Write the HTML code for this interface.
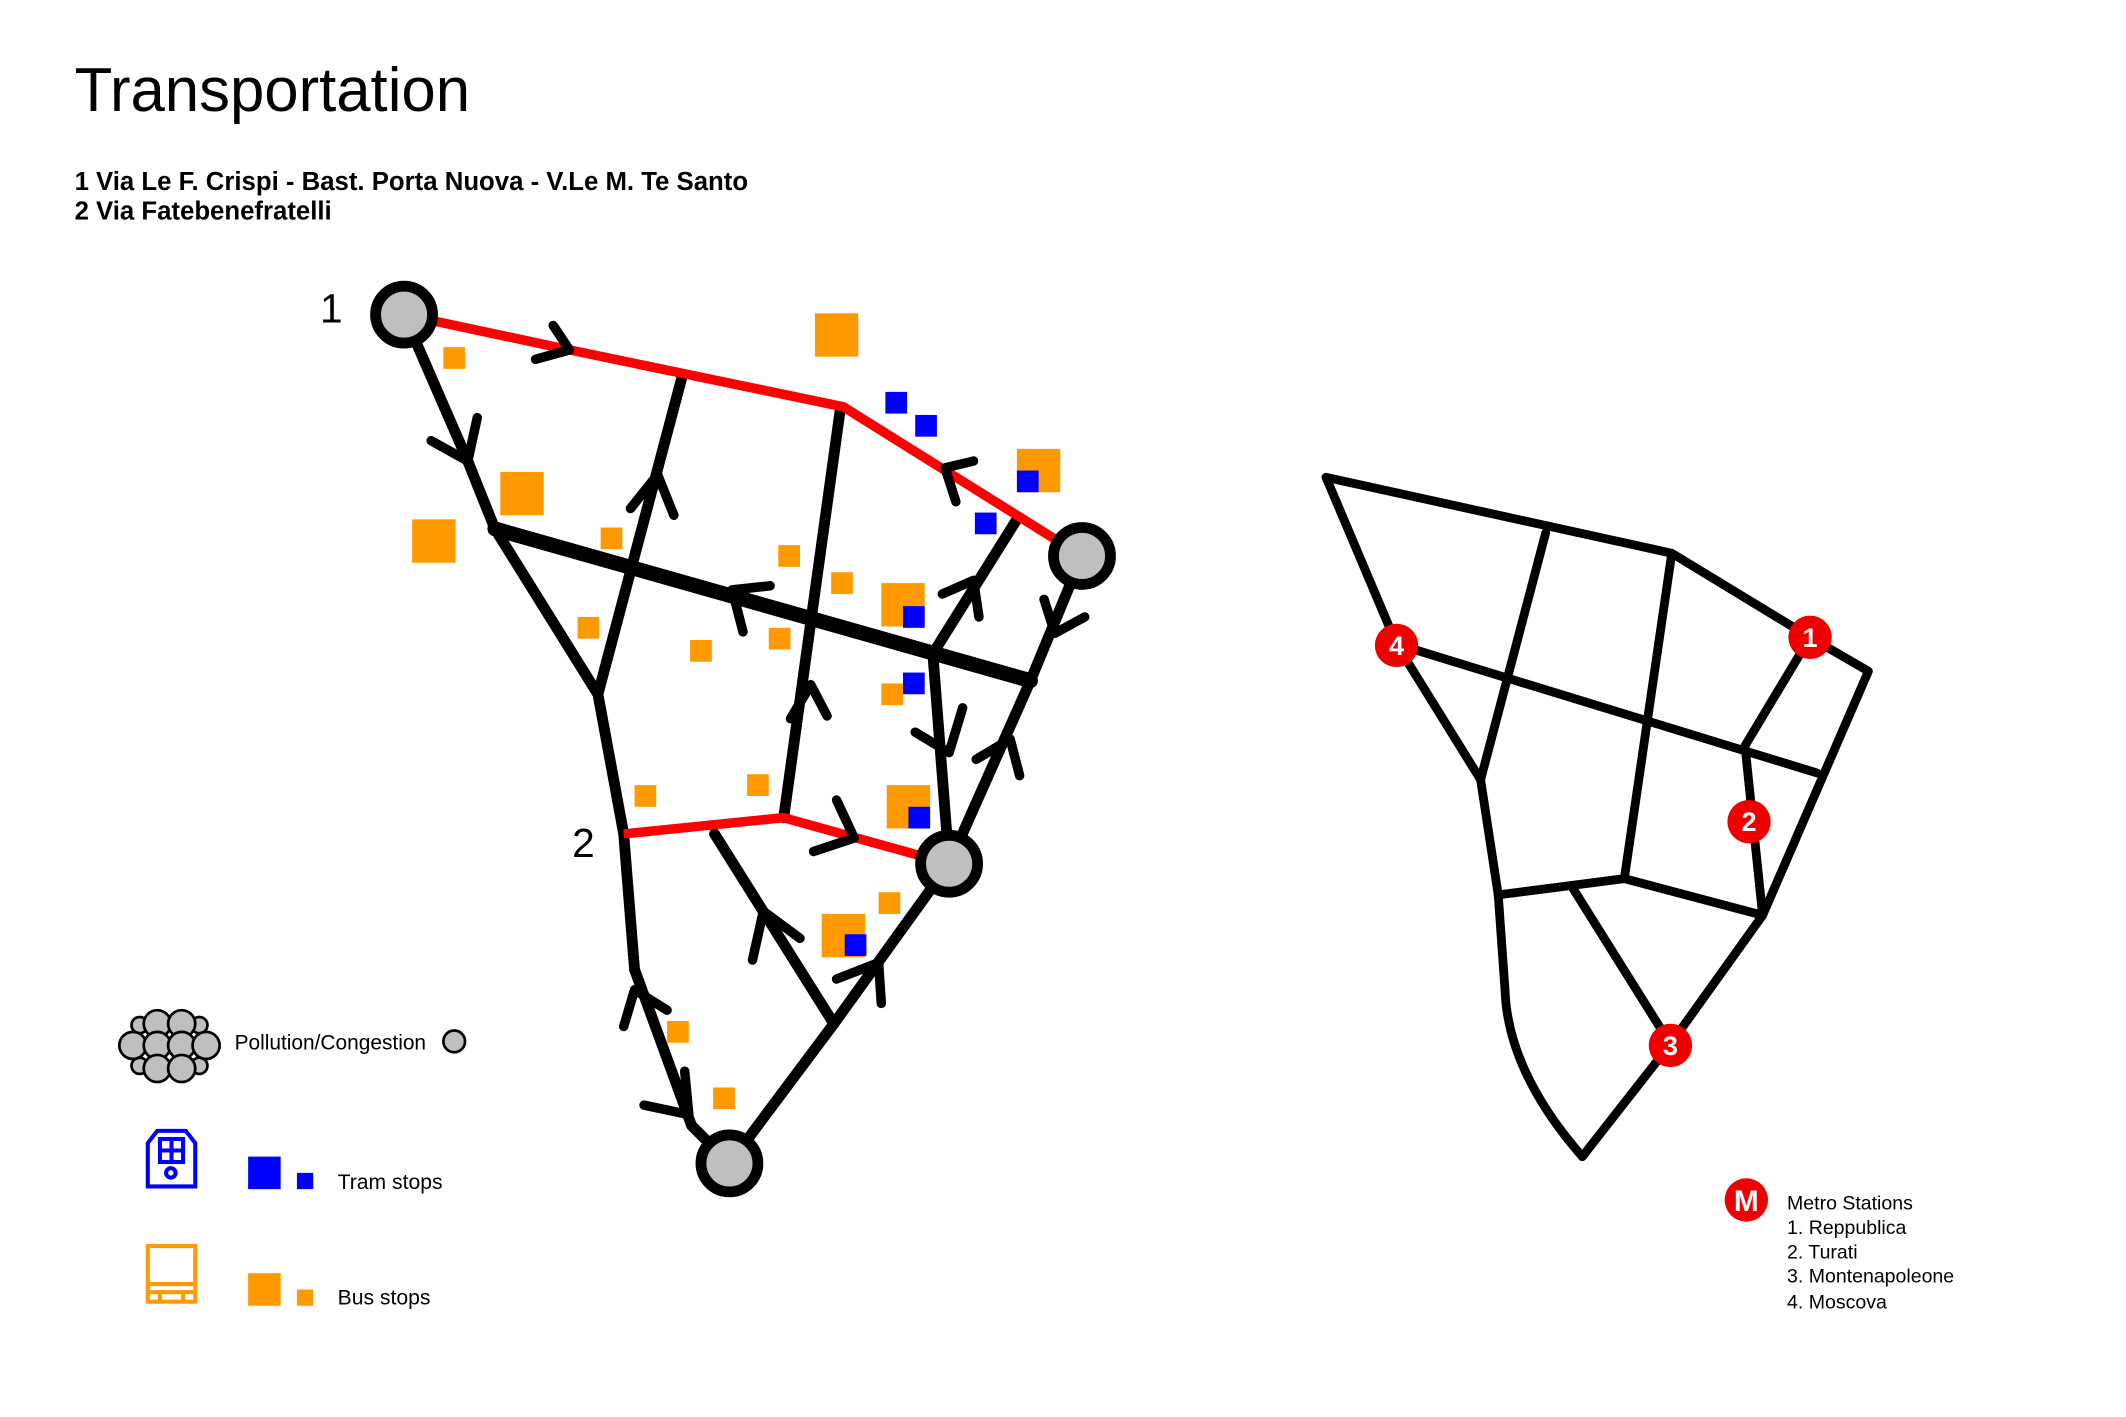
<!DOCTYPE html>
<html><head><meta charset="utf-8"><style>html,body{margin:0;padding:0;background:#fff}svg{display:block}</style></head><body>
<svg width="2126" height="1417" viewBox="0 0 1568 1045" xmlns="http://www.w3.org/2000/svg" font-family="Liberation Sans, sans-serif">
<rect width="1568" height="1045" fill="#fff"/>
<text x="55" y="82" font-size="45.5">Transportation</text>
<text x="55" y="140" font-size="19" font-weight="bold">1 Via Le F. Crispi - Bast. Porta Nuova - V.Le M. Te Santo</text>
<text x="55" y="162" font-size="19" font-weight="bold">2 Via Fatebenefratelli</text>
<text x="236" y="238" font-size="30">1</text>
<text x="422" y="632" font-size="30">2</text>
<g fill="none" stroke="#000" stroke-width="8" stroke-linecap="round" stroke-linejoin="round">
<polyline points="298,232 345,340 365,390 441,512 460,615 468,715 510,830 538,858"/>
<line x1="365" y1="390" x2="760" y2="502" stroke-width="11"/>
<line x1="503" y1="278" x2="441" y2="512"/>
<line x1="620" y1="300" x2="578" y2="603"/>
<line x1="527" y1="615" x2="615" y2="755"/>
<polyline points="538,858 615,755 700,637 760,502 798,410"/>
<polyline points="700,637 688,482 750,383"/>
</g>
<g fill="none" stroke="#f00" stroke-width="7" stroke-linejoin="round">
<polyline points="298,232 420,258 622,300 798,410"/>
<polyline points="460,615 578,603 700,637"/>
</g>
<g fill="none" stroke="#000" stroke-width="7" stroke-linecap="round" stroke-linejoin="round">
<polyline points="408,240 420,258 395,265"/>
<polyline points="318,325 345,340 352,308"/>
<polyline points="465,375 485,350 497,380"/>
<polyline points="568,432 540,435 548,466"/>
<polyline points="718,340 697,345 705,370"/>
<polyline points="695,438 718,428 722,455"/>
<polyline points="770,442 778,467 800,455"/>
<polyline points="583,530 598,505 610,528"/>
<polyline points="675,540 700,555 710,522"/>
<polyline points="720,560 745,545 752,572"/>
<polyline points="617,590 630,618 600,628"/>
<polyline points="555,708 563,672 590,692"/>
<polyline points="617,722 648,710 650,740"/>
<polyline points="460,757 468,730 492,745"/>
<polyline points="475,815 508,822 505,790"/>
</g>
<g fill="#bfbfbf" stroke="#000" stroke-width="8">
<circle cx="298" cy="232" r="21"/><circle cx="798" cy="410" r="21"/><circle cx="700" cy="637" r="21"/><circle cx="538" cy="858" r="21"/>
</g>
<g fill="#ff9900">
<rect x="601" y="231" width="32" height="32"/><rect x="327" y="256" width="16" height="16"/>
<rect x="369" y="348" width="32" height="32"/><rect x="304" y="383" width="32" height="32"/>
<rect x="443" y="389" width="16" height="16"/><rect x="574" y="402" width="16" height="16"/>
<rect x="613" y="422" width="16" height="16"/><rect x="426" y="455" width="16" height="16"/>
<rect x="509" y="472" width="16" height="16"/><rect x="567" y="463" width="16" height="16"/>
<rect x="650" y="430" width="32" height="32"/><rect x="650" y="504" width="16" height="16"/>
<rect x="468" y="579" width="16" height="16"/><rect x="551" y="571" width="16" height="16"/>
<rect x="654" y="579" width="32" height="32"/><rect x="648" y="658" width="16" height="16"/>
<rect x="606" y="674" width="32" height="32"/><rect x="492" y="753" width="16" height="16"/>
<rect x="526" y="802" width="16" height="16"/><rect x="750" y="331" width="32" height="32"/>
</g>
<g fill="#0000ff">
<rect x="666" y="447" width="16" height="16"/><rect x="666" y="496" width="16" height="16"/>
<rect x="670" y="595" width="16" height="16"/><rect x="623" y="689" width="16" height="16"/>
<rect x="750" y="347" width="16" height="16"/><rect x="653" y="289" width="16" height="16"/>
<rect x="675" y="306" width="16" height="16"/><rect x="719" y="378" width="16" height="16"/>
</g>
<g fill="none" stroke="#000" stroke-width="6.5" stroke-linejoin="round" stroke-linecap="round">
<polyline points="978,352 1233,408 1335,470 1378,495 1300,675 1232,770 1167,853"/>
<path d="M1167,853 Q1112,790 1110,730 L1105,660 L1092,575 L1030,475 L978,352"/>
<line x1="1140" y1="393" x2="1092" y2="575"/>
<line x1="1233" y1="408" x2="1198" y2="648"/>
<line x1="1030" y1="475" x2="1340" y2="570"/>
<polyline points="1335,470 1287,550 1300,675"/>
<polyline points="1105,660 1198,648 1300,675"/>
<line x1="1160" y1="655" x2="1232" y2="770"/>
</g>
<g font-weight="bold" font-size="20" fill="#fff" text-anchor="middle">
<circle cx="1030" cy="476" r="16" fill="#e00"/><text x="1030" y="483">4</text>
<circle cx="1335" cy="470" r="16" fill="#e00"/><text x="1335" y="477">1</text>
<circle cx="1290" cy="606" r="16" fill="#e00"/><text x="1290" y="613">2</text>
<circle cx="1232" cy="771" r="16" fill="#e00"/><text x="1232" y="778">3</text>
<circle cx="1288" cy="885" r="16" fill="#e00"/><text x="1288" y="893" font-size="22">M</text>
</g>
<g font-size="14.4">
<text x="1318" y="892">Metro Stations</text>
<text x="1318" y="910">1. Reppublica</text>
<text x="1318" y="928">2. Turati</text>
<text x="1318" y="946">3. Montenapoleone</text>
<text x="1318" y="965">4. Moscova</text>
</g>
<g fill="#bfbfbf" stroke="#000" stroke-width="2">
<circle cx="103" cy="756" r="6"/><circle cx="147" cy="756" r="6"/><circle cx="103" cy="786" r="6"/><circle cx="147" cy="786" r="6"/>
<circle cx="116" cy="755" r="10"/><circle cx="134" cy="755" r="10"/>
<circle cx="98" cy="771" r="10"/><circle cx="116" cy="771" r="10"/><circle cx="134" cy="771" r="10"/><circle cx="152" cy="771" r="10"/>
<circle cx="116" cy="788" r="10"/><circle cx="134" cy="788" r="10"/>
<circle cx="335" cy="768" r="8"/>
</g>
<text x="173" y="774" font-size="15.4">Pollution/Congestion</text>
<g fill="none" stroke="#0000ff" stroke-width="3">
<path d="M109,875 L109,843 L116,834 L137,834 L144,843 L144,875 Z"/>
<rect x="118" y="840" width="17" height="17"/><line x1="126.5" y1="840" x2="126.5" y2="857"/><line x1="118" y1="848.5" x2="135" y2="848.5"/>
<circle cx="126" cy="865" r="3.5"/>
</g>
<rect x="183" y="853" width="24" height="24" fill="#0000ff"/><rect x="219" y="865" width="12" height="12" fill="#0000ff"/>
<text x="249" y="877" font-size="15.6">Tram stops</text>
<g fill="none" stroke="#ff9900" stroke-width="3">
<rect x="109" y="919" width="35" height="41"/><line x1="109" y1="947" x2="144" y2="947"/><line x1="118" y1="953" x2="118" y2="960"/><line x1="135" y1="953" x2="135" y2="960"/><line x1="109" y1="953" x2="144" y2="953"/>
</g>
<rect x="183" y="939" width="24" height="24" fill="#ff9900"/><rect x="219" y="951" width="12" height="12" fill="#ff9900"/>
<text x="249" y="962" font-size="15.6">Bus stops</text>
</svg>
</body></html>
